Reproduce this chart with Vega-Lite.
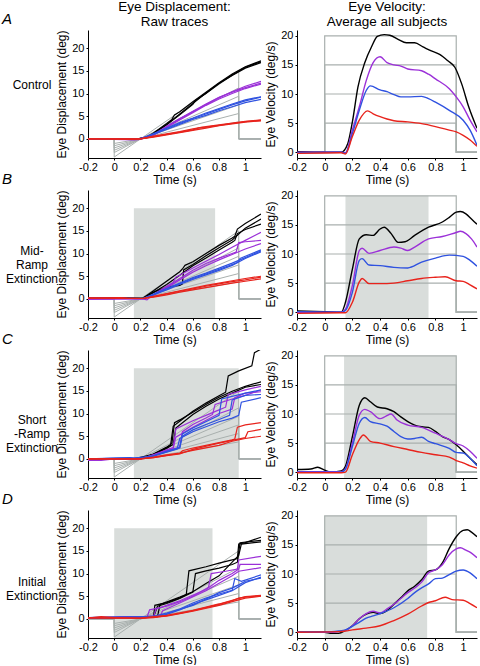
{
"$schema": "https://vega.github.io/schema/vega-lite/v6.json",
"padding": {"left": 2, "top": 0, "right": 2, "bottom": 0},
"config": {
  "font": "Liberation Sans",
  "view": {"stroke": null},
  "axis": {"domainColor": "#000", "tickColor": "#000", "labelColor": "#000", "titleColor": "#000", "labelFontSize": 11, "titleFontSize": 12, "titleFontWeight": "normal", "tickSize": 2, "grid": false, "labelFlush": false, "labelOverlap": false},
  "axisX": {"labelPadding": 1, "titlePadding": 2},
  "axisY": {"labelPadding": 2, "titlePadding": 3},
  "title": {"fontWeight": "normal", "color": "#000"}
},
"datasets": {
"shade": [
 {"r":"B","p":"L","t":0.15,"t2":0.77,"y":-4.2,"y2":20},
 {"r":"C","p":"L","t":0.15,"t2":0.95,"y":-4.2,"y2":20},
 {"r":"D","p":"L","t":0,"t2":0.75,"y":-4.2,"y2":20},
 {"r":"B","p":"R","t":0.15,"t2":0.75,"y":-1,"y2":20},
 {"r":"C","p":"R","t":0.14,"t2":0.95,"y":-1,"y2":20},
 {"r":"D","p":"R","t":0,"t2":0.74,"y":-1,"y2":20}
],
"tgt": [
 {"k":"5","t":-0.2,"y":0},{"k":"5","t":0,"y":0},{"k":"5","t":0,"y":-1},{"k":"5","t":0.95,"y":3.75},{"k":"5","t":0.95,"y":0},{"k":"5","t":1.12,"y":0},
 {"k":"7","t":-0.2,"y":0},{"k":"7","t":0,"y":0},{"k":"7","t":0,"y":-1.5},{"k":"7","t":0.95,"y":5.6},{"k":"7","t":0.95,"y":0},{"k":"7","t":1.12,"y":0},
 {"k":"10","t":-0.2,"y":0},{"k":"10","t":0,"y":0},{"k":"10","t":0,"y":-2},{"k":"10","t":0.95,"y":7.5},{"k":"10","t":0.95,"y":0},{"k":"10","t":1.12,"y":0},
 {"k":"12","t":-0.2,"y":0},{"k":"12","t":0,"y":0},{"k":"12","t":0,"y":-2.5},{"k":"12","t":0.95,"y":9.4},{"k":"12","t":0.95,"y":0},{"k":"12","t":1.12,"y":0},
 {"k":"15","t":-0.2,"y":0},{"k":"15","t":0,"y":0},{"k":"15","t":0,"y":-3},{"k":"15","t":0.95,"y":11.25},{"k":"15","t":0.95,"y":0},{"k":"15","t":1.12,"y":0},
 {"k":"20","t":-0.2,"y":0},{"k":"20","t":0,"y":0},{"k":"20","t":0,"y":-4},{"k":"20","t":0.95,"y":15},{"k":"20","t":0.95,"y":0},{"k":"20","t":1.12,"y":0}
],
"vtgt": [
 {"k":"5","t":-0.2,"y":0},{"k":"5","t":0,"y":0},{"k":"5","t":0,"y":5},{"k":"5","t":0.95,"y":5},{"k":"5","t":0.95,"y":0},{"k":"5","t":1.1,"y":0},
 {"k":"10","t":-0.2,"y":0},{"k":"10","t":0,"y":0},{"k":"10","t":0,"y":10},{"k":"10","t":0.95,"y":10},{"k":"10","t":0.95,"y":0},{"k":"10","t":1.1,"y":0},
 {"k":"15","t":-0.2,"y":0},{"k":"15","t":0,"y":0},{"k":"15","t":0,"y":15},{"k":"15","t":0.95,"y":15},{"k":"15","t":0.95,"y":0},{"k":"15","t":1.1,"y":0},
 {"k":"20","t":-0.2,"y":0},{"k":"20","t":0,"y":0},{"k":"20","t":0,"y":20},{"k":"20","t":0.95,"y":20},{"k":"20","t":0.95,"y":0},{"k":"20","t":1.1,"y":0}
],
"disp": [
 {"r":"A","s":"20","k":"a","t":-0.2,"y":0},{"r":"A","s":"20","k":"a","t":0.18,"y":0},{"r":"A","s":"20","k":"a","t":0.25,"y":0.4},{"r":"A","s":"20","k":"a","t":0.3,"y":1.3},{"r":"A","s":"20","k":"a","t":0.4,"y":3.4},{"r":"A","s":"20","k":"a","t":0.44,"y":4.3},{"r":"A","s":"20","k":"a","t":0.46,"y":5.3},{"r":"A","s":"20","k":"a","t":0.5,"y":6.0},{"r":"A","s":"20","k":"a","t":0.6,"y":8.2},{"r":"A","s":"20","k":"a","t":0.7,"y":10.3},{"r":"A","s":"20","k":"a","t":0.8,"y":12.4},{"r":"A","s":"20","k":"a","t":0.9,"y":14.3},{"r":"A","s":"20","k":"a","t":1.0,"y":15.9},{"r":"A","s":"20","k":"a","t":1.12,"y":17.2},
 {"r":"A","s":"20","k":"b","t":-0.2,"y":0},{"r":"A","s":"20","k":"b","t":0.18,"y":0},{"r":"A","s":"20","k":"b","t":0.25,"y":0.3},{"r":"A","s":"20","k":"b","t":0.3,"y":1.1},{"r":"A","s":"20","k":"b","t":0.4,"y":3.1},{"r":"A","s":"20","k":"b","t":0.5,"y":5.3},{"r":"A","s":"20","k":"b","t":0.6,"y":7.6},{"r":"A","s":"20","k":"b","t":0.62,"y":8.5},{"r":"A","s":"20","k":"b","t":0.7,"y":10.0},{"r":"A","s":"20","k":"b","t":0.8,"y":12.2},{"r":"A","s":"20","k":"b","t":0.9,"y":14.1},{"r":"A","s":"20","k":"b","t":1.0,"y":15.8},{"r":"A","s":"20","k":"b","t":1.12,"y":17.0},
 {"r":"A","s":"20","k":"c","t":-0.2,"y":0},{"r":"A","s":"20","k":"c","t":0.18,"y":0},{"r":"A","s":"20","k":"c","t":0.25,"y":0.4},{"r":"A","s":"20","k":"c","t":0.3,"y":1.2},{"r":"A","s":"20","k":"c","t":0.4,"y":3.2},{"r":"A","s":"20","k":"c","t":0.5,"y":5.5},{"r":"A","s":"20","k":"c","t":0.6,"y":7.8},{"r":"A","s":"20","k":"c","t":0.7,"y":10.1},{"r":"A","s":"20","k":"c","t":0.8,"y":12.2},{"r":"A","s":"20","k":"c","t":0.9,"y":14.0},{"r":"A","s":"20","k":"c","t":1.0,"y":15.6},{"r":"A","s":"20","k":"c","t":1.12,"y":16.8},
 {"r":"A","s":"15","k":"a","t":-0.2,"y":0},{"r":"A","s":"15","k":"a","t":0,"y":-0.1},{"r":"A","s":"15","k":"a","t":0.15,"y":-0.2},{"r":"A","s":"15","k":"a","t":0.2,"y":-0.1},{"r":"A","s":"15","k":"a","t":0.3,"y":0.9},{"r":"A","s":"15","k":"a","t":0.4,"y":2.7},{"r":"A","s":"15","k":"a","t":0.5,"y":4.4},{"r":"A","s":"15","k":"a","t":0.6,"y":6.0},{"r":"A","s":"15","k":"a","t":0.7,"y":7.6},{"r":"A","s":"15","k":"a","t":0.8,"y":9.1},{"r":"A","s":"15","k":"a","t":0.9,"y":10.4},{"r":"A","s":"15","k":"a","t":1.0,"y":11.6},{"r":"A","s":"15","k":"a","t":1.12,"y":12.7},
 {"r":"A","s":"15","k":"b","t":-0.2,"y":0},{"r":"A","s":"15","k":"b","t":0.18,"y":-0.1},{"r":"A","s":"15","k":"b","t":0.3,"y":0.8},{"r":"A","s":"15","k":"b","t":0.4,"y":2.5},{"r":"A","s":"15","k":"b","t":0.5,"y":4.2},{"r":"A","s":"15","k":"b","t":0.6,"y":5.8},{"r":"A","s":"15","k":"b","t":0.7,"y":7.4},{"r":"A","s":"15","k":"b","t":0.8,"y":8.8},{"r":"A","s":"15","k":"b","t":0.9,"y":10.0},{"r":"A","s":"15","k":"b","t":1.0,"y":11.1},{"r":"A","s":"15","k":"b","t":1.12,"y":12.1},
 {"r":"A","s":"15","k":"c","t":-0.2,"y":0},{"r":"A","s":"15","k":"c","t":0.18,"y":-0.1},{"r":"A","s":"15","k":"c","t":0.3,"y":1.0},{"r":"A","s":"15","k":"c","t":0.4,"y":2.8},{"r":"A","s":"15","k":"c","t":0.5,"y":4.5},{"r":"A","s":"15","k":"c","t":0.6,"y":6.1},{"r":"A","s":"15","k":"c","t":0.7,"y":7.7},{"r":"A","s":"15","k":"c","t":0.8,"y":9.2},{"r":"A","s":"15","k":"c","t":0.9,"y":10.3},{"r":"A","s":"15","k":"c","t":1.0,"y":11.3},{"r":"A","s":"15","k":"c","t":1.12,"y":12.3},
 {"r":"A","s":"10","k":"a","t":-0.2,"y":0},{"r":"A","s":"10","k":"a","t":0.15,"y":-0.1},{"r":"A","s":"10","k":"a","t":0.2,"y":0},{"r":"A","s":"10","k":"a","t":0.3,"y":1.1},{"r":"A","s":"10","k":"a","t":0.4,"y":2.3},{"r":"A","s":"10","k":"a","t":0.5,"y":3.4},{"r":"A","s":"10","k":"a","t":0.6,"y":4.5},{"r":"A","s":"10","k":"a","t":0.7,"y":5.5},{"r":"A","s":"10","k":"a","t":0.8,"y":6.5},{"r":"A","s":"10","k":"a","t":0.9,"y":7.5},{"r":"A","s":"10","k":"a","t":1.0,"y":8.4},{"r":"A","s":"10","k":"a","t":1.12,"y":9.2},
 {"r":"A","s":"10","k":"b","t":-0.2,"y":0},{"r":"A","s":"10","k":"b","t":0.2,"y":0},{"r":"A","s":"10","k":"b","t":0.3,"y":1.0},{"r":"A","s":"10","k":"b","t":0.4,"y":2.1},{"r":"A","s":"10","k":"b","t":0.5,"y":3.2},{"r":"A","s":"10","k":"b","t":0.6,"y":4.3},{"r":"A","s":"10","k":"b","t":0.7,"y":5.2},{"r":"A","s":"10","k":"b","t":0.8,"y":6.2},{"r":"A","s":"10","k":"b","t":0.9,"y":7.1},{"r":"A","s":"10","k":"b","t":1.0,"y":8.0},{"r":"A","s":"10","k":"b","t":1.12,"y":8.7},
 {"r":"A","s":"10","k":"c","t":-0.2,"y":0},{"r":"A","s":"10","k":"c","t":0.2,"y":0},{"r":"A","s":"10","k":"c","t":0.3,"y":1.2},{"r":"A","s":"10","k":"c","t":0.4,"y":2.4},{"r":"A","s":"10","k":"c","t":0.5,"y":3.6},{"r":"A","s":"10","k":"c","t":0.6,"y":4.6},{"r":"A","s":"10","k":"c","t":0.7,"y":5.7},{"r":"A","s":"10","k":"c","t":0.8,"y":6.7},{"r":"A","s":"10","k":"c","t":0.9,"y":7.7},{"r":"A","s":"10","k":"c","t":1.0,"y":8.6},{"r":"A","s":"10","k":"c","t":1.12,"y":9.3},
 {"r":"A","s":"5","k":"a","t":-0.2,"y":0},{"r":"A","s":"5","k":"a","t":0.15,"y":-0.1},{"r":"A","s":"5","k":"a","t":0.2,"y":0},{"r":"A","s":"5","k":"a","t":0.3,"y":0.5},{"r":"A","s":"5","k":"a","t":0.4,"y":1.0},{"r":"A","s":"5","k":"a","t":0.5,"y":1.5},{"r":"A","s":"5","k":"a","t":0.6,"y":2.0},{"r":"A","s":"5","k":"a","t":0.65,"y":2.5},{"r":"A","s":"5","k":"a","t":0.7,"y":2.6},{"r":"A","s":"5","k":"a","t":0.8,"y":3.0},{"r":"A","s":"5","k":"a","t":0.9,"y":3.4},{"r":"A","s":"5","k":"a","t":1.0,"y":3.8},{"r":"A","s":"5","k":"a","t":1.12,"y":4.1},
 {"r":"A","s":"5","k":"b","t":-0.2,"y":0},{"r":"A","s":"5","k":"b","t":0.2,"y":0},{"r":"A","s":"5","k":"b","t":0.3,"y":0.4},{"r":"A","s":"5","k":"b","t":0.4,"y":0.9},{"r":"A","s":"5","k":"b","t":0.5,"y":1.4},{"r":"A","s":"5","k":"b","t":0.6,"y":1.9},{"r":"A","s":"5","k":"b","t":0.7,"y":2.4},{"r":"A","s":"5","k":"b","t":0.8,"y":2.9},{"r":"A","s":"5","k":"b","t":0.9,"y":3.3},{"r":"A","s":"5","k":"b","t":1.0,"y":3.7},{"r":"A","s":"5","k":"b","t":1.12,"y":4.0},
 {"r":"A","s":"5","k":"c","t":-0.2,"y":0},{"r":"A","s":"5","k":"c","t":0.2,"y":0},{"r":"A","s":"5","k":"c","t":0.3,"y":0.6},{"r":"A","s":"5","k":"c","t":0.4,"y":1.1},{"r":"A","s":"5","k":"c","t":0.5,"y":1.6},{"r":"A","s":"5","k":"c","t":0.6,"y":2.2},{"r":"A","s":"5","k":"c","t":0.7,"y":2.7},{"r":"A","s":"5","k":"c","t":0.8,"y":3.1},{"r":"A","s":"5","k":"c","t":0.9,"y":3.5},{"r":"A","s":"5","k":"c","t":1.0,"y":3.9},{"r":"A","s":"5","k":"c","t":1.12,"y":4.2},

 {"r":"B","s":"20","k":"a","t":-0.2,"y":0.3},{"r":"B","s":"20","k":"a","t":0.22,"y":0.2},{"r":"B","s":"20","k":"a","t":0.3,"y":1.8},{"r":"B","s":"20","k":"a","t":0.4,"y":3.9},{"r":"B","s":"20","k":"a","t":0.5,"y":6.0},{"r":"B","s":"20","k":"a","t":0.52,"y":6.6},{"r":"B","s":"20","k":"a","t":0.54,"y":7.4},{"r":"B","s":"20","k":"a","t":0.6,"y":8.2},{"r":"B","s":"20","k":"a","t":0.7,"y":10.0},{"r":"B","s":"20","k":"a","t":0.8,"y":11.8},{"r":"B","s":"20","k":"a","t":0.9,"y":13.4},{"r":"B","s":"20","k":"a","t":0.92,"y":13.8},{"r":"B","s":"20","k":"a","t":0.94,"y":15.4},{"r":"B","s":"20","k":"a","t":1.0,"y":16.6},{"r":"B","s":"20","k":"a","t":1.12,"y":18.7},
 {"r":"B","s":"20","k":"b","t":-0.2,"y":0.2},{"r":"B","s":"20","k":"b","t":0.22,"y":0.1},{"r":"B","s":"20","k":"b","t":0.3,"y":1.5},{"r":"B","s":"20","k":"b","t":0.4,"y":2.6},{"r":"B","s":"20","k":"b","t":0.5,"y":3.0},{"r":"B","s":"20","k":"b","t":0.52,"y":3.3},{"r":"B","s":"20","k":"b","t":0.53,"y":6.4},{"r":"B","s":"20","k":"b","t":0.6,"y":7.6},{"r":"B","s":"20","k":"b","t":0.7,"y":9.5},{"r":"B","s":"20","k":"b","t":0.8,"y":11.3},{"r":"B","s":"20","k":"b","t":0.9,"y":13.0},{"r":"B","s":"20","k":"b","t":1.0,"y":15.6},{"r":"B","s":"20","k":"b","t":1.12,"y":17.6},
 {"r":"B","s":"20","k":"c","t":-0.2,"y":0.3},{"r":"B","s":"20","k":"c","t":0.22,"y":0.1},{"r":"B","s":"20","k":"c","t":0.3,"y":1.4},{"r":"B","s":"20","k":"c","t":0.4,"y":3.2},{"r":"B","s":"20","k":"c","t":0.5,"y":5.2},{"r":"B","s":"20","k":"c","t":0.6,"y":7.3},{"r":"B","s":"20","k":"c","t":0.7,"y":9.0},{"r":"B","s":"20","k":"c","t":0.8,"y":10.8},{"r":"B","s":"20","k":"c","t":0.9,"y":12.5},{"r":"B","s":"20","k":"c","t":0.92,"y":12.9},{"r":"B","s":"20","k":"c","t":0.94,"y":14.4},{"r":"B","s":"20","k":"c","t":1.0,"y":15.3},{"r":"B","s":"20","k":"c","t":1.12,"y":16.5},
 {"r":"B","s":"15","k":"a","t":-0.2,"y":-0.1},{"r":"B","s":"15","k":"a","t":0.2,"y":0.1},{"r":"B","s":"15","k":"a","t":0.25,"y":-0.2},{"r":"B","s":"15","k":"a","t":0.3,"y":1.0},{"r":"B","s":"15","k":"a","t":0.4,"y":2.8},{"r":"B","s":"15","k":"a","t":0.45,"y":3.6},{"r":"B","s":"15","k":"a","t":0.47,"y":4.8},{"r":"B","s":"15","k":"a","t":0.5,"y":5.2},{"r":"B","s":"15","k":"a","t":0.6,"y":6.8},{"r":"B","s":"15","k":"a","t":0.7,"y":8.3},{"r":"B","s":"15","k":"a","t":0.8,"y":9.8},{"r":"B","s":"15","k":"a","t":0.9,"y":11.4},{"r":"B","s":"15","k":"a","t":1.0,"y":12.9},{"r":"B","s":"15","k":"a","t":1.12,"y":14.7},
 {"r":"B","s":"15","k":"b","t":-0.2,"y":0.1},{"r":"B","s":"15","k":"b","t":0.22,"y":0},{"r":"B","s":"15","k":"b","t":0.3,"y":0.9},{"r":"B","s":"15","k":"b","t":0.4,"y":2.6},{"r":"B","s":"15","k":"b","t":0.5,"y":4.5},{"r":"B","s":"15","k":"b","t":0.6,"y":6.3},{"r":"B","s":"15","k":"b","t":0.7,"y":7.8},{"r":"B","s":"15","k":"b","t":0.8,"y":9.0},{"r":"B","s":"15","k":"b","t":0.9,"y":10.0},{"r":"B","s":"15","k":"b","t":0.93,"y":10.3},{"r":"B","s":"15","k":"b","t":0.95,"y":12.4},{"r":"B","s":"15","k":"b","t":1.0,"y":12.6},{"r":"B","s":"15","k":"b","t":1.12,"y":12.9},
 {"r":"B","s":"15","k":"c","t":-0.2,"y":0},{"r":"B","s":"15","k":"c","t":0.22,"y":0},{"r":"B","s":"15","k":"c","t":0.3,"y":0.8},{"r":"B","s":"15","k":"c","t":0.4,"y":2.4},{"r":"B","s":"15","k":"c","t":0.5,"y":4.2},{"r":"B","s":"15","k":"c","t":0.6,"y":5.9},{"r":"B","s":"15","k":"c","t":0.7,"y":7.3},{"r":"B","s":"15","k":"c","t":0.8,"y":8.6},{"r":"B","s":"15","k":"c","t":0.9,"y":9.8},{"r":"B","s":"15","k":"c","t":1.0,"y":11.0},{"r":"B","s":"15","k":"c","t":1.12,"y":12.2},
 {"r":"B","s":"10","k":"a","t":-0.2,"y":0.2},{"r":"B","s":"10","k":"a","t":0.22,"y":0.1},{"r":"B","s":"10","k":"a","t":0.3,"y":1.0},{"r":"B","s":"10","k":"a","t":0.4,"y":2.2},{"r":"B","s":"10","k":"a","t":0.5,"y":3.4},{"r":"B","s":"10","k":"a","t":0.6,"y":4.5},{"r":"B","s":"10","k":"a","t":0.7,"y":5.5},{"r":"B","s":"10","k":"a","t":0.8,"y":6.5},{"r":"B","s":"10","k":"a","t":0.9,"y":7.6},{"r":"B","s":"10","k":"a","t":0.94,"y":8.0},{"r":"B","s":"10","k":"a","t":0.96,"y":8.9},{"r":"B","s":"10","k":"a","t":1.0,"y":9.4},{"r":"B","s":"10","k":"a","t":1.12,"y":10.8},
 {"r":"B","s":"10","k":"b","t":-0.2,"y":0.2},{"r":"B","s":"10","k":"b","t":0.22,"y":0.1},{"r":"B","s":"10","k":"b","t":0.3,"y":0.9},{"r":"B","s":"10","k":"b","t":0.4,"y":2.0},{"r":"B","s":"10","k":"b","t":0.5,"y":3.2},{"r":"B","s":"10","k":"b","t":0.6,"y":4.3},{"r":"B","s":"10","k":"b","t":0.7,"y":5.3},{"r":"B","s":"10","k":"b","t":0.8,"y":6.3},{"r":"B","s":"10","k":"b","t":0.9,"y":7.4},{"r":"B","s":"10","k":"b","t":1.0,"y":8.9},{"r":"B","s":"10","k":"b","t":1.12,"y":10.4},
 {"r":"B","s":"10","k":"c","t":-0.2,"y":0.2},{"r":"B","s":"10","k":"c","t":0.22,"y":0.1},{"r":"B","s":"10","k":"c","t":0.3,"y":1.1},{"r":"B","s":"10","k":"c","t":0.4,"y":2.3},{"r":"B","s":"10","k":"c","t":0.5,"y":3.5},{"r":"B","s":"10","k":"c","t":0.6,"y":4.7},{"r":"B","s":"10","k":"c","t":0.7,"y":5.7},{"r":"B","s":"10","k":"c","t":0.8,"y":6.8},{"r":"B","s":"10","k":"c","t":0.9,"y":7.9},{"r":"B","s":"10","k":"c","t":1.0,"y":9.1},{"r":"B","s":"10","k":"c","t":1.12,"y":10.6},
 {"r":"B","s":"5","k":"a","t":-0.2,"y":0.2},{"r":"B","s":"5","k":"a","t":0.05,"y":0.3},{"r":"B","s":"5","k":"a","t":0.1,"y":0.2},{"r":"B","s":"5","k":"a","t":0.22,"y":0.1},{"r":"B","s":"5","k":"a","t":0.3,"y":0.5},{"r":"B","s":"5","k":"a","t":0.4,"y":1.1},{"r":"B","s":"5","k":"a","t":0.5,"y":1.7},{"r":"B","s":"5","k":"a","t":0.6,"y":2.2},{"r":"B","s":"5","k":"a","t":0.7,"y":2.8},{"r":"B","s":"5","k":"a","t":0.8,"y":3.3},{"r":"B","s":"5","k":"a","t":0.9,"y":3.8},{"r":"B","s":"5","k":"a","t":1.0,"y":4.2},{"r":"B","s":"5","k":"a","t":1.12,"y":4.8},
 {"r":"B","s":"5","k":"b","t":-0.2,"y":0.2},{"r":"B","s":"5","k":"b","t":0.22,"y":0.1},{"r":"B","s":"5","k":"b","t":0.3,"y":0.4},{"r":"B","s":"5","k":"b","t":0.4,"y":0.9},{"r":"B","s":"5","k":"b","t":0.5,"y":1.5},{"r":"B","s":"5","k":"b","t":0.6,"y":2.0},{"r":"B","s":"5","k":"b","t":0.7,"y":2.5},{"r":"B","s":"5","k":"b","t":0.8,"y":3.0},{"r":"B","s":"5","k":"b","t":0.9,"y":3.5},{"r":"B","s":"5","k":"b","t":1.0,"y":3.9},{"r":"B","s":"5","k":"b","t":1.12,"y":4.4},
 {"r":"B","s":"5","k":"c","t":-0.2,"y":0.2},{"r":"B","s":"5","k":"c","t":0.22,"y":0.1},{"r":"B","s":"5","k":"c","t":0.3,"y":0.6},{"r":"B","s":"5","k":"c","t":0.4,"y":1.2},{"r":"B","s":"5","k":"c","t":0.5,"y":1.8},{"r":"B","s":"5","k":"c","t":0.6,"y":2.4},{"r":"B","s":"5","k":"c","t":0.7,"y":3.0},{"r":"B","s":"5","k":"c","t":0.8,"y":3.5},{"r":"B","s":"5","k":"c","t":0.9,"y":4.0},{"r":"B","s":"5","k":"c","t":1.0,"y":4.5},{"r":"B","s":"5","k":"c","t":1.12,"y":5.0},

 {"r":"C","s":"20","k":"a","t":-0.2,"y":0},{"r":"C","s":"20","k":"a","t":0.15,"y":0},{"r":"C","s":"20","k":"a","t":0.2,"y":0.1},{"r":"C","s":"20","k":"a","t":0.3,"y":1.0},{"r":"C","s":"20","k":"a","t":0.4,"y":2.4},{"r":"C","s":"20","k":"a","t":0.43,"y":3.0},{"r":"C","s":"20","k":"a","t":0.45,"y":7.2},{"r":"C","s":"20","k":"a","t":0.5,"y":8.3},{"r":"C","s":"20","k":"a","t":0.6,"y":10.5},{"r":"C","s":"20","k":"a","t":0.7,"y":12.3},{"r":"C","s":"20","k":"a","t":0.8,"y":13.9},{"r":"C","s":"20","k":"a","t":0.85,"y":14.7},{"r":"C","s":"20","k":"a","t":0.87,"y":18.3},{"r":"C","s":"20","k":"a","t":0.95,"y":19.4},{"r":"C","s":"20","k":"a","t":1.05,"y":20.5},{"r":"C","s":"20","k":"a","t":1.07,"y":23.4},{"r":"C","s":"20","k":"a","t":1.12,"y":24.2},
 {"r":"C","s":"20","k":"b","t":-0.2,"y":0},{"r":"C","s":"20","k":"b","t":0.2,"y":0},{"r":"C","s":"20","k":"b","t":0.3,"y":1.1},{"r":"C","s":"20","k":"b","t":0.4,"y":2.6},{"r":"C","s":"20","k":"b","t":0.44,"y":3.4},{"r":"C","s":"20","k":"b","t":0.46,"y":8.0},{"r":"C","s":"20","k":"b","t":0.5,"y":8.6},{"r":"C","s":"20","k":"b","t":0.6,"y":10.3},{"r":"C","s":"20","k":"b","t":0.7,"y":12.0},{"r":"C","s":"20","k":"b","t":0.8,"y":13.6},{"r":"C","s":"20","k":"b","t":0.9,"y":14.9},{"r":"C","s":"20","k":"b","t":1.0,"y":16.0},{"r":"C","s":"20","k":"b","t":1.12,"y":17.0},
 {"r":"C","s":"20","k":"c","t":-0.2,"y":0},{"r":"C","s":"20","k":"c","t":0.15,"y":0},{"r":"C","s":"20","k":"c","t":0.3,"y":1.0},{"r":"C","s":"20","k":"c","t":0.4,"y":2.3},{"r":"C","s":"20","k":"c","t":0.45,"y":3.2},{"r":"C","s":"20","k":"c","t":0.47,"y":6.8},{"r":"C","s":"20","k":"c","t":0.6,"y":9.8},{"r":"C","s":"20","k":"c","t":0.7,"y":11.6},{"r":"C","s":"20","k":"c","t":0.8,"y":13.2},{"r":"C","s":"20","k":"c","t":0.9,"y":14.5},{"r":"C","s":"20","k":"c","t":1.0,"y":15.8},{"r":"C","s":"20","k":"c","t":1.12,"y":16.4},
 {"r":"C","s":"15","k":"a","t":-0.2,"y":-0.3},{"r":"C","s":"15","k":"a","t":-0.1,"y":-0.3},{"r":"C","s":"15","k":"a","t":0,"y":0},{"r":"C","s":"15","k":"a","t":0.2,"y":0},{"r":"C","s":"15","k":"a","t":0.3,"y":0.9},{"r":"C","s":"15","k":"a","t":0.4,"y":2.0},{"r":"C","s":"15","k":"a","t":0.45,"y":2.5},{"r":"C","s":"15","k":"a","t":0.47,"y":6.6},{"r":"C","s":"15","k":"a","t":0.6,"y":8.4},{"r":"C","s":"15","k":"a","t":0.7,"y":9.6},{"r":"C","s":"15","k":"a","t":0.8,"y":10.8},{"r":"C","s":"15","k":"a","t":0.85,"y":11.4},{"r":"C","s":"15","k":"a","t":0.87,"y":14.2},{"r":"C","s":"15","k":"a","t":1.0,"y":15.2},{"r":"C","s":"15","k":"a","t":1.12,"y":16.0},
 {"r":"C","s":"15","k":"b","t":-0.2,"y":0},{"r":"C","s":"15","k":"b","t":0.2,"y":0},{"r":"C","s":"15","k":"b","t":0.3,"y":0.8},{"r":"C","s":"15","k":"b","t":0.4,"y":1.8},{"r":"C","s":"15","k":"b","t":0.5,"y":2.6},{"r":"C","s":"15","k":"b","t":0.52,"y":6.0},{"r":"C","s":"15","k":"b","t":0.6,"y":7.6},{"r":"C","s":"15","k":"b","t":0.7,"y":9.0},{"r":"C","s":"15","k":"b","t":0.75,"y":9.8},{"r":"C","s":"15","k":"b","t":0.77,"y":12.0},{"r":"C","s":"15","k":"b","t":0.9,"y":13.2},{"r":"C","s":"15","k":"b","t":1.0,"y":14.0},{"r":"C","s":"15","k":"b","t":1.12,"y":15.2},
 {"r":"C","s":"15","k":"c","t":-0.2,"y":0},{"r":"C","s":"15","k":"c","t":0.2,"y":0},{"r":"C","s":"15","k":"c","t":0.3,"y":0.9},{"r":"C","s":"15","k":"c","t":0.45,"y":2.3},{"r":"C","s":"15","k":"c","t":0.47,"y":4.8},{"r":"C","s":"15","k":"c","t":0.6,"y":7.0},{"r":"C","s":"15","k":"c","t":0.8,"y":10.0},{"r":"C","s":"15","k":"c","t":0.9,"y":11.0},{"r":"C","s":"15","k":"c","t":0.92,"y":13.5},{"r":"C","s":"15","k":"c","t":1.0,"y":14.5},{"r":"C","s":"15","k":"c","t":1.12,"y":14.8},
 {"r":"C","s":"10","k":"a","t":-0.2,"y":0},{"r":"C","s":"10","k":"a","t":0.1,"y":0.2},{"r":"C","s":"10","k":"a","t":0.2,"y":0.1},{"r":"C","s":"10","k":"a","t":0.3,"y":0.7},{"r":"C","s":"10","k":"a","t":0.4,"y":1.6},{"r":"C","s":"10","k":"a","t":0.5,"y":2.4},{"r":"C","s":"10","k":"a","t":0.52,"y":5.0},{"r":"C","s":"10","k":"a","t":0.6,"y":6.4},{"r":"C","s":"10","k":"a","t":0.7,"y":7.6},{"r":"C","s":"10","k":"a","t":0.8,"y":8.7},{"r":"C","s":"10","k":"a","t":0.88,"y":9.6},{"r":"C","s":"10","k":"a","t":0.9,"y":13.0},{"r":"C","s":"10","k":"a","t":1.0,"y":14.0},{"r":"C","s":"10","k":"a","t":1.12,"y":14.2},
 {"r":"C","s":"10","k":"b","t":-0.2,"y":0},{"r":"C","s":"10","k":"b","t":0.12,"y":0.3},{"r":"C","s":"10","k":"b","t":0.2,"y":0.1},{"r":"C","s":"10","k":"b","t":0.3,"y":0.6},{"r":"C","s":"10","k":"b","t":0.4,"y":1.5},{"r":"C","s":"10","k":"b","t":0.48,"y":2.2},{"r":"C","s":"10","k":"b","t":0.5,"y":4.5},{"r":"C","s":"10","k":"b","t":0.6,"y":6.0},{"r":"C","s":"10","k":"b","t":0.8,"y":8.2},{"r":"C","s":"10","k":"b","t":0.9,"y":9.0},{"r":"C","s":"10","k":"b","t":0.95,"y":9.6},{"r":"C","s":"10","k":"b","t":0.97,"y":12.5},{"r":"C","s":"10","k":"b","t":1.12,"y":13.5},
 {"r":"C","s":"10","k":"c","t":-0.2,"y":0},{"r":"C","s":"10","k":"c","t":0.15,"y":0.2},{"r":"C","s":"10","k":"c","t":0.3,"y":0.7},{"r":"C","s":"10","k":"c","t":0.4,"y":1.7},{"r":"C","s":"10","k":"c","t":0.5,"y":2.5},{"r":"C","s":"10","k":"c","t":0.52,"y":5.5},{"r":"C","s":"10","k":"c","t":0.6,"y":6.8},{"r":"C","s":"10","k":"c","t":0.8,"y":9.6},{"r":"C","s":"10","k":"c","t":0.82,"y":13.2},{"r":"C","s":"10","k":"c","t":1.0,"y":14.5},{"r":"C","s":"10","k":"c","t":1.12,"y":15.2},
 {"r":"C","s":"5","k":"a","t":-0.2,"y":0},{"r":"C","s":"5","k":"a","t":0.2,"y":0},{"r":"C","s":"5","k":"a","t":0.3,"y":0.3},{"r":"C","s":"5","k":"a","t":0.4,"y":0.8},{"r":"C","s":"5","k":"a","t":0.5,"y":1.2},{"r":"C","s":"5","k":"a","t":0.52,"y":1.8},{"r":"C","s":"5","k":"a","t":0.6,"y":2.4},{"r":"C","s":"5","k":"a","t":0.7,"y":3.0},{"r":"C","s":"5","k":"a","t":0.8,"y":3.6},{"r":"C","s":"5","k":"a","t":0.9,"y":4.2},{"r":"C","s":"5","k":"a","t":0.92,"y":4.4},{"r":"C","s":"5","k":"a","t":0.94,"y":7.0},{"r":"C","s":"5","k":"a","t":1.0,"y":7.5},{"r":"C","s":"5","k":"a","t":1.12,"y":8.0},
 {"r":"C","s":"5","k":"b","t":-0.2,"y":0},{"r":"C","s":"5","k":"b","t":0.2,"y":0},{"r":"C","s":"5","k":"b","t":0.3,"y":0.3},{"r":"C","s":"5","k":"b","t":0.4,"y":0.7},{"r":"C","s":"5","k":"b","t":0.5,"y":1.1},{"r":"C","s":"5","k":"b","t":0.6,"y":2.1},{"r":"C","s":"5","k":"b","t":0.8,"y":3.5},{"r":"C","s":"5","k":"b","t":0.9,"y":4.1},{"r":"C","s":"5","k":"b","t":1.0,"y":4.7},{"r":"C","s":"5","k":"b","t":1.02,"y":6.0},{"r":"C","s":"5","k":"b","t":1.12,"y":6.5},
 {"r":"C","s":"5","k":"c","t":-0.2,"y":0},{"r":"C","s":"5","k":"c","t":0.2,"y":0},{"r":"C","s":"5","k":"c","t":0.3,"y":0.4},{"r":"C","s":"5","k":"c","t":0.4,"y":0.9},{"r":"C","s":"5","k":"c","t":0.5,"y":1.3},{"r":"C","s":"5","k":"c","t":0.6,"y":1.9},{"r":"C","s":"5","k":"c","t":0.8,"y":3.0},{"r":"C","s":"5","k":"c","t":0.9,"y":3.9},{"r":"C","s":"5","k":"c","t":1.0,"y":4.5},{"r":"C","s":"5","k":"c","t":1.12,"y":5.0},

 {"r":"D","s":"20","k":"a","t":-0.2,"y":0.2},{"r":"D","s":"20","k":"a","t":0.2,"y":0.4},{"r":"D","s":"20","k":"a","t":0.3,"y":0.5},{"r":"D","s":"20","k":"a","t":0.31,"y":3.0},{"r":"D","s":"20","k":"a","t":0.4,"y":3.6},{"r":"D","s":"20","k":"a","t":0.5,"y":4.6},{"r":"D","s":"20","k":"a","t":0.55,"y":5.4},{"r":"D","s":"20","k":"a","t":0.57,"y":10.6},{"r":"D","s":"20","k":"a","t":0.7,"y":11.5},{"r":"D","s":"20","k":"a","t":0.8,"y":12.3},{"r":"D","s":"20","k":"a","t":0.9,"y":13.0},{"r":"D","s":"20","k":"a","t":0.94,"y":13.3},{"r":"D","s":"20","k":"a","t":0.95,"y":16.5},{"r":"D","s":"20","k":"a","t":1.0,"y":16.8},{"r":"D","s":"20","k":"a","t":1.12,"y":18.0},
 {"r":"D","s":"20","k":"b","t":-0.2,"y":0.3},{"r":"D","s":"20","k":"b","t":0.3,"y":0.4},{"r":"D","s":"20","k":"b","t":0.33,"y":2.8},{"r":"D","s":"20","k":"b","t":0.4,"y":3.4},{"r":"D","s":"20","k":"b","t":0.5,"y":4.5},{"r":"D","s":"20","k":"b","t":0.6,"y":5.9},{"r":"D","s":"20","k":"b","t":0.62,"y":10.0},{"r":"D","s":"20","k":"b","t":0.7,"y":10.6},{"r":"D","s":"20","k":"b","t":0.8,"y":11.2},{"r":"D","s":"20","k":"b","t":0.9,"y":12.0},{"r":"D","s":"20","k":"b","t":0.94,"y":12.5},{"r":"D","s":"20","k":"b","t":0.96,"y":16.8},{"r":"D","s":"20","k":"b","t":1.12,"y":17.3},
 {"r":"D","s":"20","k":"c","t":-0.2,"y":0.2},{"r":"D","s":"20","k":"c","t":0.33,"y":0.5},{"r":"D","s":"20","k":"c","t":0.35,"y":3.2},{"r":"D","s":"20","k":"c","t":0.5,"y":4.8},{"r":"D","s":"20","k":"c","t":0.6,"y":6.0},{"r":"D","s":"20","k":"c","t":0.7,"y":7.8},{"r":"D","s":"20","k":"c","t":0.8,"y":9.5},{"r":"D","s":"20","k":"c","t":0.9,"y":12.5},{"r":"D","s":"20","k":"c","t":0.95,"y":14.0},{"r":"D","s":"20","k":"c","t":0.97,"y":16.5},{"r":"D","s":"20","k":"c","t":1.12,"y":17.0},
 {"r":"D","s":"15","k":"a","t":-0.2,"y":0.2},{"r":"D","s":"15","k":"a","t":0.25,"y":0.4},{"r":"D","s":"15","k":"a","t":0.27,"y":2.0},{"r":"D","s":"15","k":"a","t":0.4,"y":2.8},{"r":"D","s":"15","k":"a","t":0.5,"y":3.8},{"r":"D","s":"15","k":"a","t":0.6,"y":5.0},{"r":"D","s":"15","k":"a","t":0.72,"y":7.0},{"r":"D","s":"15","k":"a","t":0.74,"y":10.0},{"r":"D","s":"15","k":"a","t":0.85,"y":10.5},{"r":"D","s":"15","k":"a","t":0.94,"y":11.0},{"r":"D","s":"15","k":"a","t":0.95,"y":13.0},{"r":"D","s":"15","k":"a","t":1.12,"y":13.8},
 {"r":"D","s":"15","k":"b","t":-0.2,"y":0.3},{"r":"D","s":"15","k":"b","t":0.3,"y":0.5},{"r":"D","s":"15","k":"b","t":0.32,"y":2.2},{"r":"D","s":"15","k":"b","t":0.5,"y":4.0},{"r":"D","s":"15","k":"b","t":0.7,"y":6.5},{"r":"D","s":"15","k":"b","t":0.8,"y":8.5},{"r":"D","s":"15","k":"b","t":0.9,"y":10.0},{"r":"D","s":"15","k":"b","t":0.95,"y":11.0},{"r":"D","s":"15","k":"b","t":0.96,"y":12.0},{"r":"D","s":"15","k":"b","t":1.12,"y":12.0},
 {"r":"D","s":"15","k":"c","t":-0.2,"y":0.2},{"r":"D","s":"15","k":"c","t":0.35,"y":0.6},{"r":"D","s":"15","k":"c","t":0.37,"y":1.8},{"r":"D","s":"15","k":"c","t":0.5,"y":3.5},{"r":"D","s":"15","k":"c","t":0.7,"y":6.2},{"r":"D","s":"15","k":"c","t":0.9,"y":9.5},{"r":"D","s":"15","k":"c","t":0.95,"y":10.5},{"r":"D","s":"15","k":"c","t":1.12,"y":11.3},
 {"r":"D","s":"10","k":"a","t":-0.2,"y":0.3},{"r":"D","s":"10","k":"a","t":0.2,"y":0.4},{"r":"D","s":"10","k":"a","t":0.3,"y":0.6},{"r":"D","s":"10","k":"a","t":0.4,"y":1.3},{"r":"D","s":"10","k":"a","t":0.5,"y":2.2},{"r":"D","s":"10","k":"a","t":0.6,"y":3.5},{"r":"D","s":"10","k":"a","t":0.7,"y":4.6},{"r":"D","s":"10","k":"a","t":0.8,"y":5.5},{"r":"D","s":"10","k":"a","t":0.9,"y":6.3},{"r":"D","s":"10","k":"a","t":0.92,"y":8.9},{"r":"D","s":"10","k":"a","t":0.97,"y":8.3},{"r":"D","s":"10","k":"a","t":1.12,"y":9.7},
 {"r":"D","s":"10","k":"b","t":-0.2,"y":0.2},{"r":"D","s":"10","k":"b","t":0.3,"y":0.4},{"r":"D","s":"10","k":"b","t":0.4,"y":1.0},{"r":"D","s":"10","k":"b","t":0.5,"y":2.0},{"r":"D","s":"10","k":"b","t":0.6,"y":3.2},{"r":"D","s":"10","k":"b","t":0.7,"y":4.2},{"r":"D","s":"10","k":"b","t":0.8,"y":5.2},{"r":"D","s":"10","k":"b","t":0.9,"y":6.2},{"r":"D","s":"10","k":"b","t":1.0,"y":8.0},{"r":"D","s":"10","k":"b","t":1.12,"y":9.2},
 {"r":"D","s":"10","k":"c","t":-0.2,"y":0.3},{"r":"D","s":"10","k":"c","t":0.3,"y":0.5},{"r":"D","s":"10","k":"c","t":0.4,"y":1.2},{"r":"D","s":"10","k":"c","t":0.6,"y":3.0},{"r":"D","s":"10","k":"c","t":0.8,"y":5.8},{"r":"D","s":"10","k":"c","t":0.9,"y":6.8},{"r":"D","s":"10","k":"c","t":0.95,"y":7.5},{"r":"D","s":"10","k":"c","t":1.0,"y":8.3},{"r":"D","s":"10","k":"c","t":1.12,"y":9.0},
 {"r":"D","s":"5","k":"a","t":-0.2,"y":0.2},{"r":"D","s":"5","k":"a","t":-0.1,"y":0.5},{"r":"D","s":"5","k":"a","t":0,"y":0.3},{"r":"D","s":"5","k":"a","t":0.2,"y":0.1},{"r":"D","s":"5","k":"a","t":0.3,"y":0.3},{"r":"D","s":"5","k":"a","t":0.4,"y":0.7},{"r":"D","s":"5","k":"a","t":0.5,"y":1.2},{"r":"D","s":"5","k":"a","t":0.6,"y":1.8},{"r":"D","s":"5","k":"a","t":0.7,"y":2.5},{"r":"D","s":"5","k":"a","t":0.8,"y":3.2},{"r":"D","s":"5","k":"a","t":0.9,"y":4.0},{"r":"D","s":"5","k":"a","t":0.95,"y":4.6},{"r":"D","s":"5","k":"a","t":1.0,"y":4.8},{"r":"D","s":"5","k":"a","t":1.12,"y":5.1},
 {"r":"D","s":"5","k":"b","t":-0.2,"y":0.3},{"r":"D","s":"5","k":"b","t":0.2,"y":0.2},{"r":"D","s":"5","k":"b","t":0.4,"y":0.6},{"r":"D","s":"5","k":"b","t":0.6,"y":1.7},{"r":"D","s":"5","k":"b","t":0.8,"y":3.0},{"r":"D","s":"5","k":"b","t":0.9,"y":3.8},{"r":"D","s":"5","k":"b","t":1.0,"y":4.6},{"r":"D","s":"5","k":"b","t":1.12,"y":5.0},
 {"r":"D","s":"5","k":"c","t":-0.2,"y":0.2},{"r":"D","s":"5","k":"c","t":0.2,"y":0.2},{"r":"D","s":"5","k":"c","t":0.4,"y":0.8},{"r":"D","s":"5","k":"c","t":0.6,"y":1.9},{"r":"D","s":"5","k":"c","t":0.8,"y":3.3},{"r":"D","s":"5","k":"c","t":0.9,"y":4.1},{"r":"D","s":"5","k":"c","t":1.0,"y":4.9},{"r":"D","s":"5","k":"c","t":1.12,"y":5.2}
],
"vel": [
 {"r":"A","s":"20","t":-0.2,"y":0.1},{"r":"A","s":"20","t":0,"y":0},{"r":"A","s":"20","t":0.12,"y":0},{"r":"A","s":"20","t":0.167,"y":1.5},{"r":"A","s":"20","t":0.2,"y":5.2},{"r":"A","s":"20","t":0.24,"y":11.2},{"r":"A","s":"20","t":0.29,"y":15.4},{"r":"A","s":"20","t":0.34,"y":18.2},{"r":"A","s":"20","t":0.38,"y":19.9},{"r":"A","s":"20","t":0.43,"y":20.2},{"r":"A","s":"20","t":0.47,"y":20.1},{"r":"A","s":"20","t":0.53,"y":19.4},{"r":"A","s":"20","t":0.59,"y":18.8},{"r":"A","s":"20","t":0.65,"y":18.8},{"r":"A","s":"20","t":0.71,"y":18.1},{"r":"A","s":"20","t":0.77,"y":17.4},{"r":"A","s":"20","t":0.83,"y":16.8},{"r":"A","s":"20","t":0.89,"y":15.7},{"r":"A","s":"20","t":0.94,"y":14.6},{"r":"A","s":"20","t":0.99,"y":11.7},{"r":"A","s":"20","t":1.04,"y":7.8},{"r":"A","s":"20","t":1.1,"y":4.1},
 {"r":"A","s":"15","t":-0.2,"y":0},{"r":"A","s":"15","t":0.12,"y":0},{"r":"A","s":"15","t":0.15,"y":-0.1},{"r":"A","s":"15","t":0.2,"y":3.8},{"r":"A","s":"15","t":0.25,"y":7.8},{"r":"A","s":"15","t":0.3,"y":12.3},{"r":"A","s":"15","t":0.35,"y":15.4},{"r":"A","s":"15","t":0.4,"y":16.4},{"r":"A","s":"15","t":0.45,"y":15.4},{"r":"A","s":"15","t":0.5,"y":15.0},{"r":"A","s":"15","t":0.55,"y":14.8},{"r":"A","s":"15","t":0.6,"y":14.3},{"r":"A","s":"15","t":0.7,"y":14.0},{"r":"A","s":"15","t":0.75,"y":13.4},{"r":"A","s":"15","t":0.8,"y":12.6},{"r":"A","s":"15","t":0.9,"y":10.9},{"r":"A","s":"15","t":0.95,"y":9.5},{"r":"A","s":"15","t":1.0,"y":7.8},{"r":"A","s":"15","t":1.05,"y":5.5},{"r":"A","s":"15","t":1.1,"y":3.5},
 {"r":"A","s":"10","t":-0.2,"y":-0.1},{"r":"A","s":"10","t":0.12,"y":0},{"r":"A","s":"10","t":0.15,"y":-0.2},{"r":"A","s":"10","t":0.2,"y":3.2},{"r":"A","s":"10","t":0.25,"y":7.2},{"r":"A","s":"10","t":0.3,"y":10.6},{"r":"A","s":"10","t":0.33,"y":11.4},{"r":"A","s":"10","t":0.4,"y":10.7},{"r":"A","s":"10","t":0.45,"y":10.4},{"r":"A","s":"10","t":0.5,"y":9.9},{"r":"A","s":"10","t":0.55,"y":9.5},{"r":"A","s":"10","t":0.6,"y":9.5},{"r":"A","s":"10","t":0.7,"y":9.6},{"r":"A","s":"10","t":0.75,"y":9.2},{"r":"A","s":"10","t":0.8,"y":8.6},{"r":"A","s":"10","t":0.9,"y":7.2},{"r":"A","s":"10","t":1.0,"y":5.5},{"r":"A","s":"10","t":1.05,"y":3.8},{"r":"A","s":"10","t":1.1,"y":1.2},
 {"r":"A","s":"5","t":-0.2,"y":-0.2},{"r":"A","s":"5","t":0.12,"y":-0.1},{"r":"A","s":"5","t":0.15,"y":-0.3},{"r":"A","s":"5","t":0.2,"y":2.7},{"r":"A","s":"5","t":0.25,"y":5.5},{"r":"A","s":"5","t":0.31,"y":7.1},{"r":"A","s":"5","t":0.35,"y":6.6},{"r":"A","s":"5","t":0.4,"y":6.1},{"r":"A","s":"5","t":0.45,"y":5.7},{"r":"A","s":"5","t":0.5,"y":5.4},{"r":"A","s":"5","t":0.6,"y":5.2},{"r":"A","s":"5","t":0.7,"y":4.9},{"r":"A","s":"5","t":0.8,"y":4.4},{"r":"A","s":"5","t":0.9,"y":3.8},{"r":"A","s":"5","t":0.95,"y":3.5},{"r":"A","s":"5","t":1.0,"y":2.9},{"r":"A","s":"5","t":1.05,"y":2.1},{"r":"A","s":"5","t":1.1,"y":1.0},

 {"r":"B","s":"20","t":-0.2,"y":0.2},{"r":"B","s":"20","t":0,"y":0.1},{"r":"B","s":"20","t":0.12,"y":0},{"r":"B","s":"20","t":0.15,"y":1.7},{"r":"B","s":"20","t":0.2,"y":7.4},{"r":"B","s":"20","t":0.25,"y":12.6},{"r":"B","s":"20","t":0.3,"y":13.3},{"r":"B","s":"20","t":0.35,"y":13.2},{"r":"B","s":"20","t":0.4,"y":14.3},{"r":"B","s":"20","t":0.43,"y":14.6},{"r":"B","s":"20","t":0.48,"y":13.5},{"r":"B","s":"20","t":0.53,"y":12.0},{"r":"B","s":"20","t":0.58,"y":12.1},{"r":"B","s":"20","t":0.65,"y":13.2},{"r":"B","s":"20","t":0.75,"y":14.6},{"r":"B","s":"20","t":0.85,"y":15.5},{"r":"B","s":"20","t":0.9,"y":16.3},{"r":"B","s":"20","t":0.95,"y":17.2},{"r":"B","s":"20","t":0.98,"y":17.3},{"r":"B","s":"20","t":1.02,"y":16.9},{"r":"B","s":"20","t":1.06,"y":16.0},{"r":"B","s":"20","t":1.1,"y":15.1},
 {"r":"B","s":"15","t":-0.2,"y":0},{"r":"B","s":"15","t":0.12,"y":0},{"r":"B","s":"15","t":0.15,"y":0.5},{"r":"B","s":"15","t":0.2,"y":4.6},{"r":"B","s":"15","t":0.25,"y":10.6},{"r":"B","s":"15","t":0.27,"y":11.0},{"r":"B","s":"15","t":0.32,"y":10.1},{"r":"B","s":"15","t":0.4,"y":10.6},{"r":"B","s":"15","t":0.5,"y":11.2},{"r":"B","s":"15","t":0.55,"y":11.0},{"r":"B","s":"15","t":0.6,"y":10.6},{"r":"B","s":"15","t":0.65,"y":11.2},{"r":"B","s":"15","t":0.75,"y":12.6},{"r":"B","s":"15","t":0.85,"y":13.0},{"r":"B","s":"15","t":0.95,"y":13.7},{"r":"B","s":"15","t":0.98,"y":13.9},{"r":"B","s":"15","t":1.02,"y":13.5},{"r":"B","s":"15","t":1.06,"y":12.6},{"r":"B","s":"15","t":1.1,"y":11.2},
 {"r":"B","s":"10","t":-0.2,"y":0.1},{"r":"B","s":"10","t":0.12,"y":0},{"r":"B","s":"10","t":0.15,"y":0.3},{"r":"B","s":"10","t":0.2,"y":3.4},{"r":"B","s":"10","t":0.25,"y":8.9},{"r":"B","s":"10","t":0.27,"y":9.2},{"r":"B","s":"10","t":0.32,"y":8.1},{"r":"B","s":"10","t":0.4,"y":8.0},{"r":"B","s":"10","t":0.5,"y":7.7},{"r":"B","s":"10","t":0.6,"y":7.6},{"r":"B","s":"10","t":0.7,"y":8.6},{"r":"B","s":"10","t":0.8,"y":9.3},{"r":"B","s":"10","t":0.9,"y":9.8},{"r":"B","s":"10","t":1.0,"y":9.6},{"r":"B","s":"10","t":1.05,"y":8.9},{"r":"B","s":"10","t":1.1,"y":7.9},
 {"r":"B","s":"5","t":-0.2,"y":-0.2},{"r":"B","s":"5","t":0.12,"y":-0.1},{"r":"B","s":"5","t":0.15,"y":-0.1},{"r":"B","s":"5","t":0.2,"y":1.7},{"r":"B","s":"5","t":0.25,"y":5.2},{"r":"B","s":"5","t":0.27,"y":5.8},{"r":"B","s":"5","t":0.32,"y":4.9},{"r":"B","s":"5","t":0.4,"y":4.9},{"r":"B","s":"5","t":0.5,"y":5.0},{"r":"B","s":"5","t":0.6,"y":5.4},{"r":"B","s":"5","t":0.7,"y":5.8},{"r":"B","s":"5","t":0.8,"y":6.0},{"r":"B","s":"5","t":0.87,"y":6.1},{"r":"B","s":"5","t":0.95,"y":5.4},{"r":"B","s":"5","t":1.0,"y":5.3},{"r":"B","s":"5","t":1.05,"y":4.7},{"r":"B","s":"5","t":1.1,"y":4.0},

 {"r":"C","s":"20","t":-0.2,"y":0.45},{"r":"C","s":"20","t":-0.1,"y":0.55},{"r":"C","s":"20","t":-0.05,"y":0.85},{"r":"C","s":"20","t":0,"y":0.35},{"r":"C","s":"20","t":0.05,"y":0},{"r":"C","s":"20","t":0.12,"y":0.2},{"r":"C","s":"20","t":0.15,"y":1.0},{"r":"C","s":"20","t":0.2,"y":6.1},{"r":"C","s":"20","t":0.25,"y":11.5},{"r":"C","s":"20","t":0.29,"y":12.8},{"r":"C","s":"20","t":0.33,"y":12.1},{"r":"C","s":"20","t":0.38,"y":11.2},{"r":"C","s":"20","t":0.45,"y":10.9},{"r":"C","s":"20","t":0.5,"y":10.4},{"r":"C","s":"20","t":0.55,"y":9.5},{"r":"C","s":"20","t":0.6,"y":8.7},{"r":"C","s":"20","t":0.65,"y":8.1},{"r":"C","s":"20","t":0.7,"y":7.8},{"r":"C","s":"20","t":0.75,"y":7.7},{"r":"C","s":"20","t":0.8,"y":7.0},{"r":"C","s":"20","t":0.85,"y":6.1},{"r":"C","s":"20","t":0.9,"y":5.6},{"r":"C","s":"20","t":0.95,"y":4.7},{"r":"C","s":"20","t":1.0,"y":3.6},{"r":"C","s":"20","t":1.05,"y":2.4},{"r":"C","s":"20","t":1.1,"y":1.3},
 {"r":"C","s":"15","t":-0.2,"y":0.1},{"r":"C","s":"15","t":0.12,"y":0.1},{"r":"C","s":"15","t":0.15,"y":0.6},{"r":"C","s":"15","t":0.2,"y":5.0},{"r":"C","s":"15","t":0.25,"y":9.8},{"r":"C","s":"15","t":0.29,"y":10.8},{"r":"C","s":"15","t":0.33,"y":10.4},{"r":"C","s":"15","t":0.4,"y":9.2},{"r":"C","s":"15","t":0.44,"y":9.6},{"r":"C","s":"15","t":0.48,"y":10.0},{"r":"C","s":"15","t":0.52,"y":9.0},{"r":"C","s":"15","t":0.6,"y":8.1},{"r":"C","s":"15","t":0.7,"y":7.7},{"r":"C","s":"15","t":0.8,"y":6.7},{"r":"C","s":"15","t":0.9,"y":5.6},{"r":"C","s":"15","t":0.95,"y":4.9},{"r":"C","s":"15","t":1.0,"y":4.5},{"r":"C","s":"15","t":1.05,"y":3.6},{"r":"C","s":"15","t":1.1,"y":2.4},
 {"r":"C","s":"10","t":-0.2,"y":0},{"r":"C","s":"10","t":0.12,"y":0},{"r":"C","s":"10","t":0.15,"y":0.5},{"r":"C","s":"10","t":0.2,"y":4.4},{"r":"C","s":"10","t":0.25,"y":8.4},{"r":"C","s":"10","t":0.29,"y":9.4},{"r":"C","s":"10","t":0.33,"y":8.7},{"r":"C","s":"10","t":0.4,"y":8.3},{"r":"C","s":"10","t":0.45,"y":7.9},{"r":"C","s":"10","t":0.5,"y":7.0},{"r":"C","s":"10","t":0.55,"y":6.1},{"r":"C","s":"10","t":0.6,"y":5.7},{"r":"C","s":"10","t":0.65,"y":5.8},{"r":"C","s":"10","t":0.7,"y":6.0},{"r":"C","s":"10","t":0.75,"y":5.3},{"r":"C","s":"10","t":0.8,"y":4.9},{"r":"C","s":"10","t":0.9,"y":4.1},{"r":"C","s":"10","t":0.95,"y":3.4},{"r":"C","s":"10","t":1.0,"y":3.3},{"r":"C","s":"10","t":1.05,"y":2.4},{"r":"C","s":"10","t":1.1,"y":1.1},
 {"r":"C","s":"5","t":-0.2,"y":-0.1},{"r":"C","s":"5","t":0.12,"y":-0.1},{"r":"C","s":"5","t":0.15,"y":0},{"r":"C","s":"5","t":0.2,"y":3.0},{"r":"C","s":"5","t":0.25,"y":5.6},{"r":"C","s":"5","t":0.28,"y":6.4},{"r":"C","s":"5","t":0.33,"y":5.3},{"r":"C","s":"5","t":0.4,"y":5.0},{"r":"C","s":"5","t":0.5,"y":4.4},{"r":"C","s":"5","t":0.6,"y":3.9},{"r":"C","s":"5","t":0.7,"y":3.4},{"r":"C","s":"5","t":0.8,"y":3.0},{"r":"C","s":"5","t":0.9,"y":2.6},{"r":"C","s":"5","t":0.95,"y":2.0},{"r":"C","s":"5","t":1.0,"y":1.6},{"r":"C","s":"5","t":1.05,"y":1.1},{"r":"C","s":"5","t":1.1,"y":0.7},

 {"r":"D","s":"20","t":-0.2,"y":0},{"r":"D","s":"20","t":0,"y":0},{"r":"D","s":"20","t":0.05,"y":-0.2},{"r":"D","s":"20","t":0.1,"y":-0.2},{"r":"D","s":"20","t":0.15,"y":0.3},{"r":"D","s":"20","t":0.2,"y":1.1},{"r":"D","s":"20","t":0.25,"y":2.3},{"r":"D","s":"20","t":0.3,"y":3.1},{"r":"D","s":"20","t":0.35,"y":3.4},{"r":"D","s":"20","t":0.4,"y":3.2},{"r":"D","s":"20","t":0.45,"y":3.7},{"r":"D","s":"20","t":0.5,"y":4.8},{"r":"D","s":"20","t":0.55,"y":5.9},{"r":"D","s":"20","t":0.6,"y":7.1},{"r":"D","s":"20","t":0.65,"y":7.9},{"r":"D","s":"20","t":0.7,"y":9.0},{"r":"D","s":"20","t":0.75,"y":10.5},{"r":"D","s":"20","t":0.8,"y":10.7},{"r":"D","s":"20","t":0.85,"y":11.9},{"r":"D","s":"20","t":0.9,"y":14.4},{"r":"D","s":"20","t":0.95,"y":16.4},{"r":"D","s":"20","t":1.0,"y":17.5},{"r":"D","s":"20","t":1.03,"y":17.6},{"r":"D","s":"20","t":1.06,"y":17.2},{"r":"D","s":"20","t":1.1,"y":16.4},
 {"r":"D","s":"15","t":-0.2,"y":0},{"r":"D","s":"15","t":0.05,"y":0},{"r":"D","s":"15","t":0.1,"y":0.1},{"r":"D","s":"15","t":0.15,"y":0.3},{"r":"D","s":"15","t":0.2,"y":1.1},{"r":"D","s":"15","t":0.25,"y":2.3},{"r":"D","s":"15","t":0.3,"y":3.2},{"r":"D","s":"15","t":0.35,"y":3.6},{"r":"D","s":"15","t":0.4,"y":3.3},{"r":"D","s":"15","t":0.45,"y":4.0},{"r":"D","s":"15","t":0.5,"y":4.8},{"r":"D","s":"15","t":0.55,"y":5.8},{"r":"D","s":"15","t":0.6,"y":6.8},{"r":"D","s":"15","t":0.65,"y":7.6},{"r":"D","s":"15","t":0.7,"y":8.6},{"r":"D","s":"15","t":0.75,"y":10.2},{"r":"D","s":"15","t":0.8,"y":10.7},{"r":"D","s":"15","t":0.85,"y":11.6},{"r":"D","s":"15","t":0.9,"y":13.3},{"r":"D","s":"15","t":0.95,"y":14.3},{"r":"D","s":"15","t":0.98,"y":14.5},{"r":"D","s":"15","t":1.02,"y":14.1},{"r":"D","s":"15","t":1.06,"y":13.6},{"r":"D","s":"15","t":1.1,"y":12.8},
 {"r":"D","s":"10","t":-0.2,"y":0},{"r":"D","s":"10","t":0.05,"y":0.1},{"r":"D","s":"10","t":0.1,"y":0.2},{"r":"D","s":"10","t":0.15,"y":0.4},{"r":"D","s":"10","t":0.2,"y":1.0},{"r":"D","s":"10","t":0.25,"y":1.7},{"r":"D","s":"10","t":0.3,"y":2.4},{"r":"D","s":"10","t":0.35,"y":2.8},{"r":"D","s":"10","t":0.4,"y":3.2},{"r":"D","s":"10","t":0.5,"y":4.2},{"r":"D","s":"10","t":0.6,"y":5.8},{"r":"D","s":"10","t":0.65,"y":6.8},{"r":"D","s":"10","t":0.7,"y":7.6},{"r":"D","s":"10","t":0.75,"y":8.3},{"r":"D","s":"10","t":0.8,"y":9.2},{"r":"D","s":"10","t":0.85,"y":9.3},{"r":"D","s":"10","t":0.9,"y":9.9},{"r":"D","s":"10","t":0.95,"y":10.5},{"r":"D","s":"10","t":1.0,"y":10.7},{"r":"D","s":"10","t":1.05,"y":10.2},{"r":"D","s":"10","t":1.1,"y":9.2},
 {"r":"D","s":"5","t":-0.2,"y":0},{"r":"D","s":"5","t":0.1,"y":0.1},{"r":"D","s":"5","t":0.15,"y":0.2},{"r":"D","s":"5","t":0.2,"y":0.4},{"r":"D","s":"5","t":0.3,"y":0.7},{"r":"D","s":"5","t":0.4,"y":1.1},{"r":"D","s":"5","t":0.5,"y":2.0},{"r":"D","s":"5","t":0.6,"y":3.1},{"r":"D","s":"5","t":0.7,"y":4.5},{"r":"D","s":"5","t":0.75,"y":5.1},{"r":"D","s":"5","t":0.8,"y":5.4},{"r":"D","s":"5","t":0.87,"y":6.0},{"r":"D","s":"5","t":0.92,"y":5.6},{"r":"D","s":"5","t":1.0,"y":5.5},{"r":"D","s":"5","t":1.05,"y":4.9},{"r":"D","s":"5","t":1.1,"y":4.2}
]
},
"columns": 3,
"bounds": "flush",
"align": "each",
"spacing": {"row": 32, "column": 36},
"concat": [
 {"width": 50, "height": 128,
  "title": {"text": "A", "anchor": "start", "fontStyle": "italic", "fontSize": 15, "offset": 3},
  "data": {"values": [{"name": "Control"}]},
  "mark": {"type": "text", "fontSize": 12, "lineBreak": "\n", "lineHeight": 14, "dy": -9, "dx": 5},
  "encoding": {"text": {"field": "name"}}},
 {"width": 173, "height": 128,
  "title": {"text": ["Eye Displacement:", "Raw traces"], "fontSize": 13.5, "lineHeight": 15, "anchor": "middle", "offset": 1},
  "encoding": {
   "x": {"field": "t", "type": "quantitative", "title": "Time (s)", "scale": {"domain": [-0.2, 1.12], "nice": false, "zero": false}, "axis": {"values": [-0.2, 0, 0.2, 0.4, 0.6, 0.8, 1], "format": "~g", "labelExpr": "replace(datum.label, '\u2212', '-')"}},
   "y": {"field": "y", "type": "quantitative", "title": "Eye Displacement (deg)", "scale": {"domain": [-4.2, 24], "nice": false, "zero": false}, "axis": {"values": [0, 5, 10, 15, 20]}}},
  "layer": [
   {"data": {"name": "tgt"}, "mark": {"type": "line", "color": "#a9b0ae", "strokeWidth": 1}, "encoding": {"detail": {"field": "k"}}},
   {"data": {"name": "disp"}, "transform": [{"filter": "datum.r === 'A'"}], "mark": {"type": "line", "strokeWidth": 1.2, "clip": true}, "encoding": {"color": {"field": "s", "type": "nominal", "scale": {"domain": ["5", "10", "15", "20"], "range": ["#e8231c", "#2f52e0", "#9b30d8", "#000000"]}, "legend": null}, "detail": {"field": "k"}}}
  ]},
 {"width": 180, "height": 128,
  "title": {"text": ["Eye Velocity:", "Average all subjects"], "fontSize": 13.5, "lineHeight": 15, "anchor": "middle", "offset": 1},
  "encoding": {
   "x": {"field": "t", "type": "quantitative", "title": "Time (s)", "scale": {"domain": [-0.2, 1.1], "nice": false, "zero": false}, "axis": {"values": [-0.2, 0, 0.2, 0.4, 0.6, 0.8, 1], "format": "~g", "labelExpr": "replace(datum.label, '\u2212', '-')"}},
   "y": {"field": "y", "type": "quantitative", "title": "Eye Velocity (deg/s)", "scale": {"domain": [-1, 21], "nice": false, "zero": false}, "axis": {"values": [0, 5, 10, 15, 20]}}},
  "layer": [
   {"data": {"name": "vtgt"}, "mark": {"type": "line", "color": "#a9b0ae", "strokeWidth": 1.2}, "encoding": {"detail": {"field": "k"}}},
   {"data": {"name": "vel"}, "transform": [{"filter": "datum.r === 'A'"}], "mark": {"type": "line", "strokeWidth": 1.4, "interpolate": "monotone", "clip": true}, "encoding": {"color": {"field": "s", "type": "nominal", "scale": {"domain": ["5", "10", "15", "20"], "range": ["#e8231c", "#2f52e0", "#9b30d8", "#000000"]}, "legend": null}}}
  ]},

 {"width": 50, "height": 128,
  "title": {"text": "B", "anchor": "start", "fontStyle": "italic", "fontSize": 15, "offset": 3},
  "data": {"values": [{"name": "Mid-\nRamp\nExtinction"}]},
  "mark": {"type": "text", "fontSize": 12, "lineBreak": "\n", "lineHeight": 14, "dy": -3, "dx": 5},
  "encoding": {"text": {"field": "name"}}},
 {"width": 173, "height": 128,
  "encoding": {
   "x": {"field": "t", "type": "quantitative", "title": "Time (s)", "scale": {"domain": [-0.2, 1.12], "nice": false, "zero": false}, "axis": {"values": [-0.2, 0, 0.2, 0.4, 0.6, 0.8, 1], "format": "~g", "labelExpr": "replace(datum.label, '\u2212', '-')"}},
   "y": {"field": "y", "type": "quantitative", "title": "Eye Displacement (deg)", "scale": {"domain": [-4.2, 24], "nice": false, "zero": false}, "axis": {"values": [0, 5, 10, 15, 20]}}},
  "layer": [
   {"data": {"name": "shade"}, "transform": [{"filter": "datum.r === 'B' && datum.p === 'L'"}], "mark": {"type": "rect", "color": "#d9dddb"}, "encoding": {"x2": {"field": "t2"}, "y2": {"field": "y2"}}},
   {"data": {"name": "tgt"}, "mark": {"type": "line", "color": "#a9b0ae", "strokeWidth": 1}, "encoding": {"detail": {"field": "k"}}},
   {"data": {"name": "disp"}, "transform": [{"filter": "datum.r === 'B'"}], "mark": {"type": "line", "strokeWidth": 1.2, "clip": true}, "encoding": {"color": {"field": "s", "type": "nominal", "scale": {"domain": ["5", "10", "15", "20"], "range": ["#e8231c", "#2f52e0", "#9b30d8", "#000000"]}, "legend": null}, "detail": {"field": "k"}}}
  ]},
 {"width": 180, "height": 128,
  "encoding": {
   "x": {"field": "t", "type": "quantitative", "title": "Time (s)", "scale": {"domain": [-0.2, 1.1], "nice": false, "zero": false}, "axis": {"values": [-0.2, 0, 0.2, 0.4, 0.6, 0.8, 1], "format": "~g", "labelExpr": "replace(datum.label, '\u2212', '-')"}},
   "y": {"field": "y", "type": "quantitative", "title": "Eye Velocity (deg/s)", "scale": {"domain": [-1, 21], "nice": false, "zero": false}, "axis": {"values": [0, 5, 10, 15, 20]}}},
  "layer": [
   {"data": {"name": "shade"}, "transform": [{"filter": "datum.r === 'B' && datum.p === 'R'"}], "mark": {"type": "rect", "color": "#d9dddb"}, "encoding": {"x2": {"field": "t2"}, "y2": {"field": "y2"}}},
   {"data": {"name": "vtgt"}, "mark": {"type": "line", "color": "#a9b0ae", "strokeWidth": 1.2}, "encoding": {"detail": {"field": "k"}}},
   {"data": {"name": "vel"}, "transform": [{"filter": "datum.r === 'B'"}], "mark": {"type": "line", "strokeWidth": 1.4, "interpolate": "monotone", "clip": true}, "encoding": {"color": {"field": "s", "type": "nominal", "scale": {"domain": ["5", "10", "15", "20"], "range": ["#e8231c", "#2f52e0", "#9b30d8", "#000000"]}, "legend": null}}}
  ]},

 {"width": 50, "height": 128,
  "title": {"text": "C", "anchor": "start", "fontStyle": "italic", "fontSize": 15, "offset": 3},
  "data": {"values": [{"name": "Short\n-Ramp\nExtinction"}]},
  "mark": {"type": "text", "fontSize": 12, "lineBreak": "\n", "lineHeight": 14, "dy": 6, "dx": 5},
  "encoding": {"text": {"field": "name"}}},
 {"width": 173, "height": 128,
  "encoding": {
   "x": {"field": "t", "type": "quantitative", "title": "Time (s)", "scale": {"domain": [-0.2, 1.12], "nice": false, "zero": false}, "axis": {"values": [-0.2, 0, 0.2, 0.4, 0.6, 0.8, 1], "format": "~g", "labelExpr": "replace(datum.label, '\u2212', '-')"}},
   "y": {"field": "y", "type": "quantitative", "title": "Eye Displacement (deg)", "scale": {"domain": [-4.2, 24], "nice": false, "zero": false}, "axis": {"values": [0, 5, 10, 15, 20]}}},
  "layer": [
   {"data": {"name": "shade"}, "transform": [{"filter": "datum.r === 'C' && datum.p === 'L'"}], "mark": {"type": "rect", "color": "#d9dddb"}, "encoding": {"x2": {"field": "t2"}, "y2": {"field": "y2"}}},
   {"data": {"name": "tgt"}, "mark": {"type": "line", "color": "#a9b0ae", "strokeWidth": 1}, "encoding": {"detail": {"field": "k"}}},
   {"data": {"name": "disp"}, "transform": [{"filter": "datum.r === 'C'"}], "mark": {"type": "line", "strokeWidth": 1.2, "clip": true}, "encoding": {"color": {"field": "s", "type": "nominal", "scale": {"domain": ["5", "10", "15", "20"], "range": ["#e8231c", "#2f52e0", "#9b30d8", "#000000"]}, "legend": null}, "detail": {"field": "k"}}}
  ]},
 {"width": 180, "height": 128,
  "encoding": {
   "x": {"field": "t", "type": "quantitative", "title": "Time (s)", "scale": {"domain": [-0.2, 1.1], "nice": false, "zero": false}, "axis": {"values": [-0.2, 0, 0.2, 0.4, 0.6, 0.8, 1], "format": "~g", "labelExpr": "replace(datum.label, '\u2212', '-')"}},
   "y": {"field": "y", "type": "quantitative", "title": "Eye Velocity (deg/s)", "scale": {"domain": [-1, 21], "nice": false, "zero": false}, "axis": {"values": [0, 5, 10, 15, 20]}}},
  "layer": [
   {"data": {"name": "shade"}, "transform": [{"filter": "datum.r === 'C' && datum.p === 'R'"}], "mark": {"type": "rect", "color": "#d9dddb"}, "encoding": {"x2": {"field": "t2"}, "y2": {"field": "y2"}}},
   {"data": {"name": "vtgt"}, "mark": {"type": "line", "color": "#a9b0ae", "strokeWidth": 1.2}, "encoding": {"detail": {"field": "k"}}},
   {"data": {"name": "vel"}, "transform": [{"filter": "datum.r === 'C'"}], "mark": {"type": "line", "strokeWidth": 1.4, "interpolate": "monotone", "clip": true}, "encoding": {"color": {"field": "s", "type": "nominal", "scale": {"domain": ["5", "10", "15", "20"], "range": ["#e8231c", "#2f52e0", "#9b30d8", "#000000"]}, "legend": null}}}
  ]},

 {"width": 50, "height": 128,
  "title": {"text": "D", "anchor": "start", "fontStyle": "italic", "fontSize": 15, "offset": 3},
  "data": {"values": [{"name": "Initial\nExtinction"}]},
  "mark": {"type": "text", "fontSize": 12, "lineBreak": "\n", "lineHeight": 14, "dy": 8, "dx": 5},
  "encoding": {"text": {"field": "name"}}},
 {"width": 173, "height": 128,
  "encoding": {
   "x": {"field": "t", "type": "quantitative", "title": "Time (s)", "scale": {"domain": [-0.2, 1.12], "nice": false, "zero": false}, "axis": {"values": [-0.2, 0, 0.2, 0.4, 0.6, 0.8, 1], "format": "~g", "labelExpr": "replace(datum.label, '\u2212', '-')"}},
   "y": {"field": "y", "type": "quantitative", "title": "Eye Displacement (deg)", "scale": {"domain": [-4.2, 24], "nice": false, "zero": false}, "axis": {"values": [0, 5, 10, 15, 20]}}},
  "layer": [
   {"data": {"name": "shade"}, "transform": [{"filter": "datum.r === 'D' && datum.p === 'L'"}], "mark": {"type": "rect", "color": "#d9dddb"}, "encoding": {"x2": {"field": "t2"}, "y2": {"field": "y2"}}},
   {"data": {"name": "tgt"}, "mark": {"type": "line", "color": "#a9b0ae", "strokeWidth": 1}, "encoding": {"detail": {"field": "k"}}},
   {"data": {"name": "disp"}, "transform": [{"filter": "datum.r === 'D'"}], "mark": {"type": "line", "strokeWidth": 1.2, "clip": true}, "encoding": {"color": {"field": "s", "type": "nominal", "scale": {"domain": ["5", "10", "15", "20"], "range": ["#e8231c", "#2f52e0", "#9b30d8", "#000000"]}, "legend": null}, "detail": {"field": "k"}}}
  ]},
 {"width": 180, "height": 128,
  "encoding": {
   "x": {"field": "t", "type": "quantitative", "title": "Time (s)", "scale": {"domain": [-0.2, 1.1], "nice": false, "zero": false}, "axis": {"values": [-0.2, 0, 0.2, 0.4, 0.6, 0.8, 1], "format": "~g", "labelExpr": "replace(datum.label, '\u2212', '-')"}},
   "y": {"field": "y", "type": "quantitative", "title": "Eye Velocity (deg/s)", "scale": {"domain": [-1, 21], "nice": false, "zero": false}, "axis": {"values": [0, 5, 10, 15, 20]}}},
  "layer": [
   {"data": {"name": "shade"}, "transform": [{"filter": "datum.r === 'D' && datum.p === 'R'"}], "mark": {"type": "rect", "color": "#d9dddb"}, "encoding": {"x2": {"field": "t2"}, "y2": {"field": "y2"}}},
   {"data": {"name": "vtgt"}, "mark": {"type": "line", "color": "#a9b0ae", "strokeWidth": 1.2}, "encoding": {"detail": {"field": "k"}}},
   {"data": {"name": "vel"}, "transform": [{"filter": "datum.r === 'D'"}], "mark": {"type": "line", "strokeWidth": 1.4, "interpolate": "monotone", "clip": true}, "encoding": {"color": {"field": "s", "type": "nominal", "scale": {"domain": ["5", "10", "15", "20"], "range": ["#e8231c", "#2f52e0", "#9b30d8", "#000000"]}, "legend": null}}}
  ]}
]
}
